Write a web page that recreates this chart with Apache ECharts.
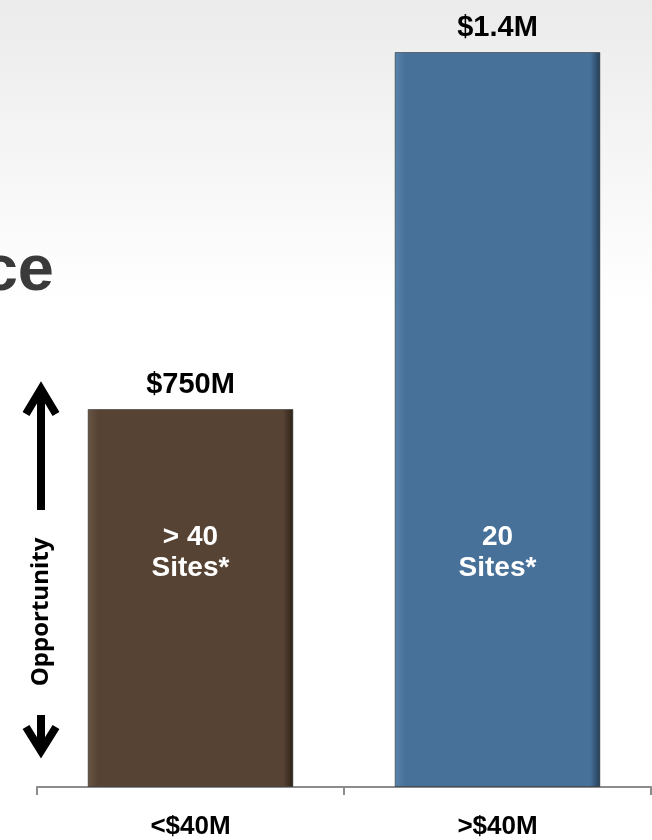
<!DOCTYPE html>
<html>
<head>
<meta charset="utf-8">
<script src="https://cdn.jsdelivr.net/npm/echarts@6/dist/echarts.min.js"></script>
<style>
  html, body { margin: 0; padding: 0; background: #fff; }
  #chart { width: 652px; height: 840px; }
</style>
</head>
<body>
<div id="chart"></div>
<script>
// ---- data ----
var categories = ['<$40M', '>$40M'];
var barHeights = [720, 1400];          // bar heights
var valueLabels = ['$750M', '$1.4M'];
var siteLabels = ['> 40\nSites*', '20\nSites*'];
var sideLabel = 'Opportunity';
var titleFragment = 'ce';

var chart = echarts.init(document.getElementById('chart'), null, { renderer: 'canvas' });

function barColor(main, left, right) {
  return {
    type: 'linear', x: 0, y: 0, x2: 1, y2: 0,
    colorStops: [
      { offset: 0, color: left },
      { offset: 0.05, color: main },
      { offset: 0.95, color: main },
      { offset: 1, color: right }
    ]
  };
}
var barStyles = [
  barColor('#574333', '#6a5645', '#2c2118'),
  barColor('#48719a', '#5a84ab', '#233c55')
];
var labelLevel = 446; // vertical level of inner text in value units

var option = {
  backgroundColor: {
    type: 'linear', x: 0, y: 0, x2: 0, y2: 1,
    colorStops: [
      { offset: 0, color: '#ebebeb' },
      { offset: 0.36, color: '#ffffff' },
      { offset: 1, color: '#ffffff' }
    ]
  },
  animation: false,
  grid: { left: 37, right: 1, top: 52, bottom: 50 },
  xAxis: {
    type: 'category',
    data: categories,
    axisLine: { lineStyle: { color: '#8c8c8c', width: 2 } },
    axisTick: { show: true, length: 8, lineStyle: { color: '#8c8c8c', width: 2 } },
    axisLabel: {
      margin: 27,
      color: '#000',
      fontFamily: 'Liberation Sans, Arial, sans-serif',
      fontWeight: 'bold',
      fontSize: 26
    }
  },
  yAxis: {
    type: 'value', min: 0, max: 1400, show: false,
    splitLine: { show: false }
  },
  series: [
    {
      type: 'bar',
      barWidth: '67%',
      data: barHeights.map(function (v, i) {
        return { value: v, itemStyle: { color: barStyles[i] } };
      }),
      itemStyle: { borderColor: 'rgba(30,30,30,0.5)', borderWidth: 1 },
      label: {
        show: true,
        position: 'top',
        distance: 10,
        color: '#000',
        fontFamily: 'Liberation Sans, Arial, sans-serif',
        fontWeight: 'bold',
        fontSize: 29,
        formatter: function (p) { return valueLabels[p.dataIndex]; }
      },
      z: 2
    },
    {
      type: 'scatter',
      symbolSize: 0,
      itemStyle: { opacity: 1 },
      data: categories.map(function () { return labelLevel; }),
      label: {
        show: true,
        position: 'inside',
        color: '#ffffff',
        opacity: 1,
        fontFamily: 'Liberation Sans, Arial, sans-serif',
        fontWeight: 'bold',
        fontSize: 28,
        lineHeight: 31,
        align: 'center',
        formatter: function (p) { return siteLabels[p.dataIndex]; }
      },
      z: 5,
      silent: true
    }
  ],
  graphic: [
    {
      type: 'text',
      right: 652 - 54,
      top: 240,
      style: {
        text: titleFragment,
        fill: '#3a3a3a',
        font: 'bold 65px "Liberation Sans", Arial, sans-serif'
      }
    },
    {
      type: 'text',
      x: 41, y: 612,
      rotation: Math.PI / 2,
      style: {
        text: sideLabel,
        fill: '#000',
        align: 'center',
        verticalAlign: 'middle',
        font: 'bold 24px "Open Sans", sans-serif'
      }
    },
    // up arrow
    {
      type: 'line',
      shape: { x1: 41, y1: 388, x2: 41, y2: 510 },
      style: { stroke: '#000', lineWidth: 8 }
    },
    {
      type: 'polyline',
      shape: { points: [[26, 414], [41, 389], [56, 414]] },
      style: { stroke: '#000', lineWidth: 8, fill: null, lineJoin: 'miter', lineCap: 'butt' }
    },
    // down arrow
    {
      type: 'line',
      shape: { x1: 41, y1: 715, x2: 41, y2: 752 },
      style: { stroke: '#000', lineWidth: 8 }
    },
    {
      type: 'polyline',
      shape: { points: [[26, 727], [41, 751], [56, 727]] },
      style: { stroke: '#000', lineWidth: 8, fill: null, lineJoin: 'miter', lineCap: 'butt' }
    }
  ]
};
chart.setOption(option);
</script>
</body>
</html>
